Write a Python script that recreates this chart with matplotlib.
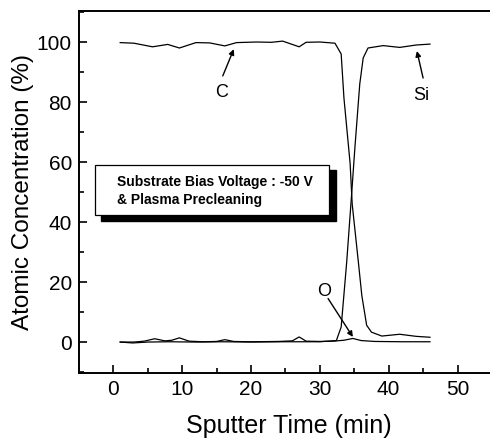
import matplotlib
matplotlib.use('Agg')
from matplotlib import pyplot as plt
from matplotlib.patches import Rectangle
from matplotlib.ticker import MultipleLocator

plt.rcParams['font.family'] = ['Liberation Sans', 'DejaVu Sans']

# sputter time (min) and atomic concentration (%)
c_time = [1, 3, 5.7, 7.9, 9.6, 12, 14, 16.2, 17.9, 20.8, 23, 24.6, 27, 28, 30, 32.2,
          33.1, 33.5, 34.4, 34.7, 35.6, 36.1, 36.8, 37.5, 39, 41.6, 44, 46]
c_conc = [99.8, 99.6, 98.4, 99.2, 98, 99.8, 99.7, 98.7, 99.8, 100, 99.9, 100.3, 98.4, 99.9,
          100, 99.6, 96, 81.4, 59.5, 46, 26.6, 15.5, 5.6, 3.3, 2.0, 2.6, 1.9, 1.6]

si_time = [1, 2.8, 5, 8, 12, 16, 20, 25, 30, 32.4, 33.1, 33.9, 34.6, 35.1, 35.8, 36.3,
           37.0, 39.2, 41.6, 44, 46]
si_conc = [0, -0.3, 0, 0.1, 0, 0.1, 0, 0.1, 0.1, 0.5, 5, 26.6, 48.7, 65, 86, 94.7,
           98, 98.8, 98.2, 99, 99.3]

o_time = [1, 3, 4.5, 6, 7.5, 8.5, 9.6, 11, 13, 15, 16.2, 17.5, 20, 24, 26, 27, 28, 30,
          32, 33.5, 34.8, 36, 38, 42, 46]
o_conc = [0, 0, 0.3, 1.1, 0.4, 0.6, 1.4, 0.3, 0.1, 0.2, 0.8, 0.2, 0.1, 0.2, 0.4, 1.7,
          0.3, 0.2, 0.3, 0.6, 1.2, 0.5, 0.2, 0.1, 0.1]

fig = plt.figure(figsize=(4.9, 4.44), dpi=100)
ax = fig.add_axes([0.161, 0.160, 0.857, 0.815])

for t, c in [(c_time, c_conc), (si_time, si_conc), (o_time, o_conc)]:
    ax.plot(t, c, color='black', lw=0.9)

ax.set_xlim(-5, 56)
ax.set_ylim(-10.3, 110.3)
ax.xaxis.set_major_locator(MultipleLocator(10))
ax.xaxis.set_minor_locator(MultipleLocator(5))
ax.yaxis.set_major_locator(MultipleLocator(20))
ax.yaxis.set_minor_locator(MultipleLocator(10))
ax.tick_params(which='both', direction='in', labelsize=15, width=1.2)
ax.tick_params(which='major', length=6, pad=5)
ax.tick_params(which='minor', length=3.5)
for s in ax.spines.values():
    s.set_linewidth(1.4)

ax.set_xlabel('Sputter Time (min)', fontsize=18, labelpad=11)
ax.set_ylabel('Atomic Concentration (%)', fontsize=17.5, labelpad=2)

arrow = dict(arrowstyle='-|>', color='black', lw=1.0, mutation_scale=8, shrinkA=0, shrinkB=0)
ax.annotate('', xy=(17.5, 97.6), xytext=(15.9, 88.7), arrowprops=arrow)
ax.text(15.7, 83.3, 'C', fontsize=13, ha='center', va='center')
ax.annotate('', xy=(44.1, 97), xytext=(45, 88), arrowprops=arrow)
ax.text(44.8, 82.3, 'Si', fontsize=13, ha='center', va='center')
ax.annotate('', xy=(34.8, 1.7), xytext=(31.2, 14.5), arrowprops=arrow)
ax.text(30.6, 17.0, 'O', fontsize=13, ha='center', va='center')

# annotation box with black drop shadow
ax.add_patch(Rectangle((-1.8, 40.5), 34.1, 16.9, facecolor='black', edgecolor='black', zorder=3))
ax.add_patch(Rectangle((-2.7, 42.2), 34.1, 16.9, facecolor='white', edgecolor='black',
                       lw=0.9, zorder=4))
ax.text(0.6, 53.3, 'Substrate Bias Voltage : -50 V', fontsize=10, fontweight='bold',
        va='center', zorder=5)
ax.text(0.6, 47.2, '& Plasma Precleaning', fontsize=10, fontweight='bold',
        va='center', zorder=5)

fig.savefig('out.png', dpi=100)
